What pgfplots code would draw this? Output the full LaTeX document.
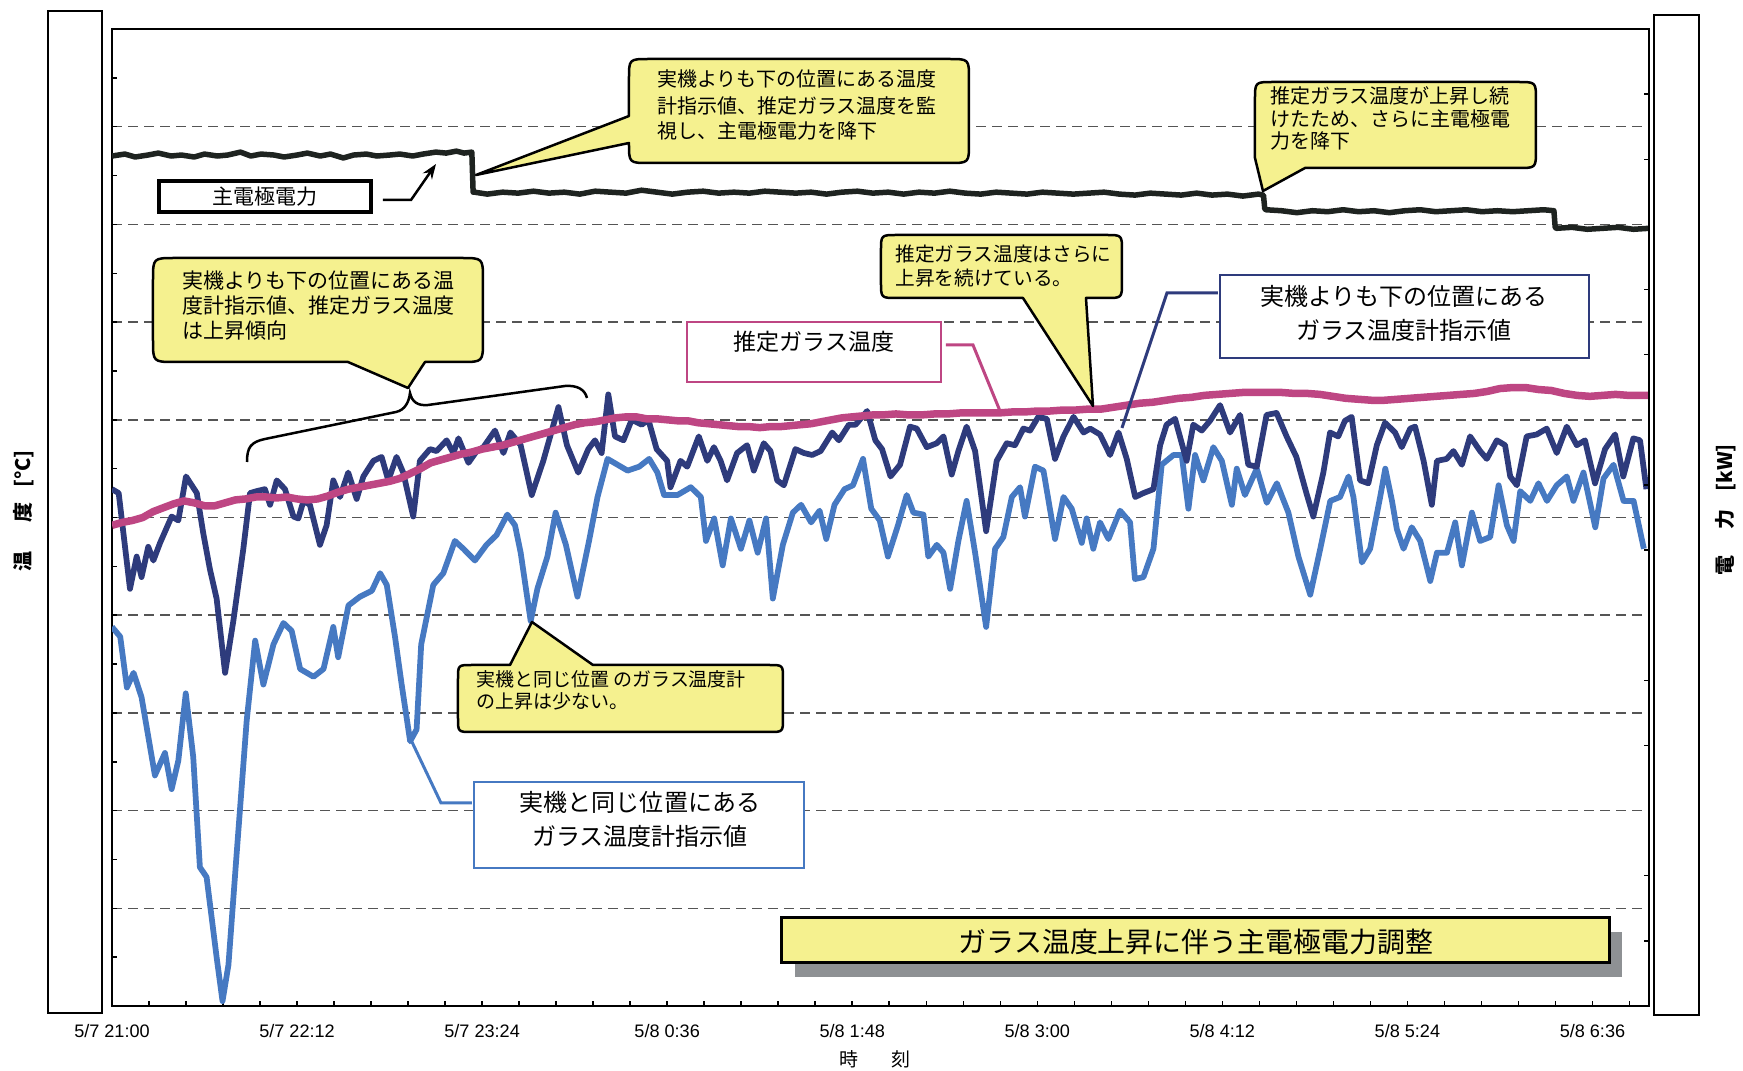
\documentclass[border=0pt]{standalone}
\usepackage{pgfplots}
\pgfplotsset{compat=1.18}
\usetikzlibrary{arrows.meta}
\usepackage{fontspec}
\setmainfont{Noto Sans CJK JP}
\newfontfamily\tickfont{Liberation Sans}

\definecolor{powerc}{HTML}{1E2320}
\definecolor{navyc}{HTML}{2E3B7C}
\definecolor{bluec}{HTML}{4679C2}
\definecolor{magc}{HTML}{BE4683}
\definecolor{gridc}{HTML}{555555}
\definecolor{callout}{HTML}{F5F18F}
\definecolor{shadowc}{HTML}{8E9194}

\newcommand{\fs}[1]{\fontsize{#1}{#1}\selectfont}

\begin{document}
\begin{tikzpicture}
\path[use as bounding box] (0,0) rectangle (348.6mm,-214.2mm);

% side frames (one px = 0.2mm, y downwards)
\begin{scope}[x=0.2mm,y=-0.2mm]
  \draw[line width=0.4mm] (48,11) rectangle (102,1013);
  \draw[line width=0.4mm] (1654,15) rectangle (1699,1015);
\end{scope}

\begin{axis}[
  at={(22.4mm,-201.2mm)}, anchor=south west,
  scale only axis, width=307.4mm, height=195.4mm,
  xmin=0, xmax=598, ymin=0, ymax=10,
  axis line style={line width=0.5mm},
  xtick={0,72,...,576},
  xticklabels={5/7 21:00,5/7 22:12,5/7 23:24,5/8 0:36,5/8 1:48,5/8 3:00,5/8 4:12,5/8 5:24,5/8 6:36},
  minor xtick={0,14.4,...,590},
  ytick={1,...,9}, yticklabels={},
  minor ytick={0.5,1.5,...,9.5},
  xtick pos=bottom, ytick pos=left,
  tick align=inside,
  major tick length=1mm, minor tick length=1mm,
  tick style={black, line width=0.3mm},
  ymajorgrids,
  major grid style={gridc, line width=0.3mm, dash pattern=on 2mm off 1.2mm},
  xticklabel style={font=\tickfont\fontsize{10.3}{12}\selectfont, yshift=-2.4mm},
  every axis plot/.append style={line join=round},
]
% lower thermometer (same level as the real unit)
\addplot[bluec, line width=1.15mm] coordinates {
(0,3.88)(3.2,3.78)(5.8,3.26)(8.4,3.41)(11.5,3.16)(16.7,2.36)(20.6,2.59)(23.2,2.22)(25.8,2.51)(28.7,3.20)(31.6,2.55)(34.2,1.42)(36.8,1.32)(40.7,0.50)(43,0.05)(45.3,0.42)(48.5,1.56)(52.4,2.92)(55.7,3.74)(58.9,3.29)(62.8,3.70)(66.7,3.92)(69.9,3.84)(73.2,3.45)(78.4,3.37)(82.3,3.45)(86.1,3.88)(88,3.57)(92,4.10)(96.5,4.19)(101.1,4.25)(104.3,4.43)(106.9,4.31)(110.1,3.78)(112.7,3.29)(116,2.71)(118.5,2.83)(120.3,3.70)(125,4.31)(128.9,4.43)(133.4,4.76)(136.7,4.68)(141.2,4.56)(145.7,4.72)(149.6,4.82)(153.8,5.03)(156.8,4.92)(159,4.64)(162.9,3.94)(165.5,4.27)(169.4,4.60)(172.6,5.05)(176.6,4.72)(181.1,4.19)(185.6,4.76)(188.9,5.21)(192.8,5.60)(196.7,5.54)(200.6,5.48)(205.1,5.52)(209,5.60)(212.2,5.46)(214.8,5.23)(220,5.23)(225.2,5.31)(229.1,5.21)(231.1,4.76)(234.3,4.99)(237.6,4.51)(240.8,4.99)(244.7,4.68)(248,4.97)(251.2,4.64)(254.5,4.99)(257.1,4.17)(261,4.72)(264.9,5.05)(268.1,5.13)(272,4.95)(275.3,5.07)(277.9,4.78)(281.1,5.13)(285,5.29)(288.3,5.33)(292.2,5.60)(295.4,5.09)(298.7,4.97)(301.9,4.60)(305.8,4.92)(309.2,5.23)(311.8,5.05)(315.7,5.03)(317.6,4.60)(320.9,4.72)(323.5,4.64)(326.1,4.27)(329.3,4.76)(332.5,5.17)(335.8,4.64)(340.1,3.88)(343.6,4.68)(346.8,4.80)(350.1,5.21)(353.3,5.31)(355.2,5.01)(359.1,5.52)(362.4,5.48)(366.9,4.78)(370.2,5.21)(373.4,5.09)(377.3,4.74)(379.2,4.99)(381.8,4.68)(384.4,4.95)(387.7,4.78)(392.2,5.07)(396.1,4.95)(398,4.37)(401.3,4.39)(405.2,4.68)(408.4,5.54)(413,5.64)(416.2,5.64)(418.8,5.09)(421.4,5.64)(424.6,5.38)(428.5,5.72)(431.8,5.58)(435.7,5.13)(437.6,5.50)(440.8,5.23)(445.4,5.50)(449.3,5.15)(453.2,5.35)(457.7,5.05)(461.6,4.60)(466.2,4.21)(470.1,4.68)(474,5.17)(477.8,5.21)(481.1,5.42)(483,5.21)(486.3,4.54)(489.5,4.68)(493.4,5.21)(495.4,5.50)(498,5.17)(499.9,4.88)(502.5,4.68)(505.7,4.90)(509,4.76)(512.9,4.35)(515.5,4.64)(519.4,4.64)(522.6,4.95)(525.2,4.51)(529.1,5.05)(532.3,4.76)(536.2,4.80)(539.5,5.33)(542.7,4.92)(545.3,4.76)(547.9,5.27)(551.8,5.17)(555,5.35)(558.3,5.17)(562.1,5.33)(566,5.42)(568.6,5.17)(572.5,5.46)(577.1,4.90)(580.3,5.40)(584.2,5.54)(588.1,5.17)(592,5.17)(596,4.68)
};
% upper thermometer (below the real unit)
\addplot[navyc, line width=1.15mm] coordinates {
(0,5.29)(2.6,5.25)(7,4.27)(9.6,4.60)(11.5,4.39)(14.1,4.70)(16.1,4.56)(18.7,4.74)(23.2,5.01)(25.8,4.97)(28.8,5.42)(33,5.25)(35.5,4.84)(38.1,4.47)(40.7,4.17)(44,3.41)(47.2,3.94)(51.1,4.68)(53.7,5.25)(56.3,5.27)(59.5,5.29)(61.5,5.13)(64.1,5.38)(67.3,5.29)(70.6,5.01)(72.5,4.99)(74.5,5.17)(77,5.13)(80.9,4.72)(83.5,4.92)(86.1,5.38)(88.7,5.21)(91.9,5.46)(95.2,5.19)(97.8,5.42)(101.7,5.58)(104.9,5.62)(107.5,5.38)(110.7,5.62)(113.3,5.46)(117.2,5.01)(119.8,5.58)(123.7,5.70)(126.3,5.68)(130.2,5.79)(132.8,5.66)(134.8,5.81)(138.7,5.56)(141.9,5.68)(144.5,5.72)(149,5.89)(152.3,5.66)(155,5.87)(159,5.74)(163.3,5.23)(167.8,5.58)(173.7,6.13)(177,5.74)(181.4,5.46)(185.3,5.70)(187.9,5.79)(190.5,5.66)(193.1,6.26)(195.7,5.83)(199,5.79)(202.2,6.00)(206.1,5.95)(208.7,6.00)(211.9,5.70)(216,5.58)(217.3,5.31)(221.2,5.58)(223.8,5.52)(228.3,5.83)(231.6,5.58)(234.2,5.72)(236.8,5.58)(239.3,5.38)(243.2,5.66)(247.1,5.74)(249.7,5.48)(253.6,5.76)(256.2,5.68)(258.8,5.38)(261.4,5.33)(265.9,5.70)(269.2,5.66)(272.4,5.64)(275.7,5.68)(280.2,5.87)(282.8,5.79)(286.7,5.95)(289.3,5.95)(293.8,6.09)(297,5.79)(299.6,5.70)(302.9,5.42)(306.6,5.54)(310.5,5.93)(313.1,5.91)(317,5.72)(320.9,5.76)(323.5,5.83)(326.7,5.44)(329.3,5.68)(332.5,5.93)(335.8,5.68)(340.1,4.86)(344.2,5.58)(348.1,5.76)(351.3,5.74)(354.6,5.91)(357.2,5.89)(360.4,6.03)(363.7,6.01)(366.9,5.60)(370.2,5.83)(374.1,6.03)(378,5.87)(380.6,5.91)(384.4,5.85)(388.3,5.64)(391.6,5.87)(394.8,5.60)(398.1,5.21)(401.3,5.25)(405.2,5.29)(407.8,5.74)(410.3,5.95)(413.6,6.01)(418.1,5.58)(420.7,5.95)(424,5.89)(427.2,5.99)(431.1,6.15)(435,5.87)(438.9,6.05)(442.1,5.54)(445.4,5.52)(449.2,6.05)(453.1,6.07)(457,5.83)(460.8,5.62)(464.7,5.25)(467.4,5.01)(471.3,5.46)(473.9,5.87)(477.1,5.83)(479.7,5.99)(482.3,6.03)(485.6,5.38)(488.8,5.35)(492.1,5.74)(495.3,5.97)(499.2,5.87)(501.8,5.72)(505.1,5.91)(507,5.93)(510.3,5.58)(513.5,5.13)(515.5,5.58)(519.3,5.60)(521.9,5.68)(525.2,5.54)(528.4,5.83)(532.3,5.68)(534.9,5.60)(538.8,5.79)(542,5.74)(544,5.42)(546.6,5.33)(550.4,5.83)(554.3,5.85)(558.2,5.91)(562.1,5.66)(566,5.93)(569.9,5.74)(573.1,5.79)(577,5.35)(580.9,5.70)(584.8,5.85)(588,5.42)(591.9,5.81)(594.5,5.79)(597,5.29)
};
% estimated glass temperature
\addplot[magc, line width=1.5mm] coordinates {
(0,4.92)(4,4.95)(8,4.97)(12,5.00)(16,5.06)(20,5.10)(24,5.14)(28,5.17)(32,5.15)(36,5.12)(40,5.12)(44,5.15)(48,5.18)(52,5.19)(56,5.21)(60,5.21)(64,5.20)(68,5.21)(72,5.19)(76,5.18)(80,5.19)(84,5.22)(88,5.26)(92,5.29)(96,5.31)(100,5.33)(104,5.35)(108,5.37)(112,5.40)(116,5.45)(120,5.50)(124,5.56)(128,5.59)(132,5.62)(136,5.65)(140,5.67)(144,5.70)(148,5.72)(152,5.74)(156,5.77)(160,5.80)(164,5.83)(168,5.86)(172,5.89)(176,5.92)(180,5.95)(184,5.97)(188,5.98)(192,6.00)(196,6.02)(200,6.03)(204,6.03)(208,6.01)(212,6.01)(216,6.00)(220,5.99)(224,5.99)(228,5.97)(232,5.96)(236,5.95)(240,5.94)(244,5.93)(248,5.93)(252,5.92)(256,5.93)(260,5.93)(264,5.94)(268,5.95)(272,5.96)(276,5.98)(280,6.00)(284,6.02)(288,6.03)(292,6.04)(296,6.05)(300,6.05)(305,6.06)(310,6.05)(315,6.05)(320,6.06)(325,6.06)(330,6.07)(335,6.07)(340,6.07)(345,6.07)(350,6.08)(355,6.08)(360,6.09)(365,6.09)(370,6.10)(375,6.10)(380,6.11)(385,6.11)(390,6.13)(395,6.15)(400,6.17)(405,6.18)(410,6.20)(415,6.22)(420,6.23)(425,6.25)(430,6.26)(435,6.27)(440,6.28)(445,6.28)(450,6.28)(455,6.28)(460,6.27)(465,6.27)(470,6.26)(475,6.24)(480,6.22)(485,6.21)(490,6.20)(495,6.20)(500,6.21)(505,6.22)(510,6.23)(515,6.24)(520,6.25)(525,6.26)(530,6.27)(535,6.29)(540,6.32)(545,6.33)(550,6.33)(555,6.31)(560,6.30)(565,6.27)(570,6.25)(575,6.24)(580,6.25)(585,6.26)(590,6.25)(598,6.25)
};
% main electrode power
\addplot[powerc, line width=1.1mm] coordinates {
(0,8.70)(5,8.72)(9,8.69)(14,8.71)(18,8.73)(23,8.70)(27,8.71)(32,8.69)(36,8.72)(41,8.70)(45,8.71)(50,8.74)(54,8.70)(58,8.72)(63,8.71)(67,8.69)(72,8.71)(76,8.73)(81,8.70)(85,8.72)(90,8.68)(94,8.71)(99,8.72)(103,8.70)(108,8.71)(112,8.72)(117,8.70)(121,8.72)(126,8.74)(130,8.73)(134,8.75)(137,8.73)(140,8.74)(140.5,8.33)
(141,8.33)(146,8.31)(152,8.33)(158,8.32)(164,8.34)(170,8.32)(176,8.33)(182,8.31)(188,8.34)(194,8.33)(200,8.32)(206,8.35)(212,8.33)(218,8.31)(224,8.33)(230,8.34)(236,8.32)(242,8.33)(248,8.32)(254,8.34)(260,8.33)(266,8.32)(272,8.33)(278,8.31)(284,8.33)(290,8.34)(296,8.32)(302,8.33)(308,8.31)(314,8.33)(320,8.32)(326,8.34)(332,8.32)(338,8.31)(344,8.33)(350,8.32)(356,8.31)(362,8.33)(368,8.32)(374,8.31)(380,8.32)(386,8.33)(392,8.31)(398,8.30)(404,8.32)(410,8.31)(416,8.30)(422,8.32)(428,8.30)(434,8.31)(440,8.29)(446,8.31)(448,8.30)(448.5,8.16)
(449,8.15)(455,8.14)(461,8.12)(467,8.14)(473,8.13)(479,8.15)(485,8.13)(491,8.14)(497,8.12)(503,8.14)(509,8.15)(515,8.13)(521,8.14)(527,8.15)(533,8.13)(539,8.14)(545,8.13)(551,8.14)(557,8.15)(561,8.14)(561.5,7.97)
(562,7.96)(568,7.97)(574,7.95)(580,7.96)(586,7.97)(592,7.95)(598,7.96)
};
\end{axis}

% right-hand (power) scale ticks
\begin{axis}[
  at={(22.4mm,-201.2mm)}, anchor=south west,
  scale only axis, width=307.4mm, height=195.4mm,
  xmin=0, xmax=598, ymin=0, ymax=10,
  axis x line=none, axis y line*=right,
  y axis line style={line width=0.5mm},
  ytick={0.6667,1.3333,2.6667,3.3333,4.6667,5.3333,6.6667,7.3333,8.6667,9.3333},
  yticklabels={}, tick align=inside, major tick length=1mm,
  tick style={black, line width=0.3mm},
]
\addplot[draw=none] coordinates {(0,0)};
\end{axis}

\begin{scope}[x=0.2mm,y=-0.2mm]
  % axis titles
  \node[rotate=90, font=\bfseries\fs{11.4}] at (24,511) {温\hspace{1.45em}度\hspace{0.75em}[°C]};
  \node[rotate=90, font=\bfseries\fs{11.4}] at (1726,510) {電\hspace{1.3em}力\hspace{0.9em}[kW]};
  \node[anchor=base, font=\fs{10.8}] at (875,1067) {時\hspace{1.7em}刻};

  % callout: top middle
  \draw[fill=callout, line width=0.5mm, line join=round]
    (649,59) -- (949,59) .. controls (969,59) .. (969,79) -- (969,143)
    .. controls (969,163) .. (949,163) -- (649,163) .. controls (629,163) .. (629,143)
    -- (476,175) -- (629,116) -- (629,79) .. controls (629,59) .. (649,59) -- cycle;
  \begin{scope}[font=\fs{11.38}]
    \node[anchor=base west, inner sep=0] at (657,87) {実機よりも下の位置にある温度};
    \node[anchor=base west, inner sep=0] at (657,114) {計指示値、推定ガラス温度を監};
    \node[anchor=base west, inner sep=0] at (657,139) {視し、主電極電力を降下};
  \end{scope}

  % callout: top right
  \draw[fill=callout, line width=0.5mm, line join=round]
    (1273,82) -- (1518,82) .. controls (1536,82) .. (1536,100) -- (1536,150)
    .. controls (1536,168) .. (1518,168) -- (1305,168) -- (1263,191) -- (1255,158)
    -- (1255,100) .. controls (1255,82) .. (1273,82) -- cycle;
  \begin{scope}[font=\fs{11.38}]
    \node[anchor=base west, inner sep=0] at (1270,104) {推定ガラス温度が上昇し続};
    \node[anchor=base west, inner sep=0] at (1270,127) {けたため、さらに主電極電};
    \node[anchor=base west, inner sep=0] at (1270,149) {力を降下};
  \end{scope}

  % callout: left
  \draw[fill=callout, line width=0.5mm, line join=round]
    (175,258) -- (461,258) .. controls (483,258) .. (483,280) -- (483,340)
    .. controls (483,362) .. (461,362) -- (425,362) -- (408,388) -- (348,362)
    -- (175,362) .. controls (153,362) .. (153,340) -- (153,280)
    .. controls (153,258) .. (175,258) -- cycle;
  \begin{scope}[font=\fs{11.95}]
    \node[anchor=base west, inner sep=0] at (182,289) {実機よりも下の位置にある温};
    \node[anchor=base west, inner sep=0] at (182,314) {度計指示値、推定ガラス温度};
    \node[anchor=base west, inner sep=0] at (182,339) {は上昇傾向};
  \end{scope}
  % brace
  \draw[line width=0.5mm]
    (247,462) .. controls (247,447) and (251,442) .. (265,439) -- (396,412)
    .. controls (405,410) and (409,402) .. (410,393)
    .. controls (412,402) and (418,406) .. (428,405) -- (565,386)
    .. controls (578,385) and (585,390) .. (587,398);

  % callout: middle right
  \draw[fill=callout, line width=0.5mm, line join=round]
    (897,235) -- (1106,235) .. controls (1122,235) .. (1122,251) -- (1122,282)
    .. controls (1122,298) .. (1106,298) -- (1086,298) -- (1093,406) -- (1023,298)
    -- (897,298) .. controls (881,298) .. (881,282) -- (881,251)
    .. controls (881,235) .. (897,235) -- cycle;
  \begin{scope}[font=\fs{11.2}]
    \node[anchor=base west, inner sep=0] at (895,262) {推定ガラス温度はさらに};
    \node[anchor=base west, inner sep=0] at (895,286) {上昇を続けている。};
  \end{scope}

  % callout: lower middle
  \draw[fill=callout, line width=0.5mm, line join=round]
    (472,665) -- (510,665) -- (532,622) -- (593,665) -- (769,665)
    .. controls (783,665) .. (783,679) -- (783,718) .. controls (783,732) .. (769,732)
    -- (472,732) .. controls (458,732) .. (458,718) -- (458,679)
    .. controls (458,665) .. (472,665) -- cycle;
  \begin{scope}[font=\fs{10.8}]
    \node[anchor=base west, inner sep=0] at (476,687) {実機と同じ位置 のガラス温度計};
    \node[anchor=base west, inner sep=0] at (476,709) {の上昇は少ない。};
  \end{scope}

  % series name boxes with leaders
  \draw[fill=white, line width=0.7mm] (159,181) rectangle (371,212);
  \node[anchor=base, inner sep=0, font=\fs{11.95}] at (265,205) {主電極電力};
  \draw[line width=0.5mm, -{Stealth[length=3mm,width=2.2mm]}] (383,200) -- (411,200) -- (436,164);

  \draw[magc, fill=white, line width=0.45mm] (687,322) rectangle (941,382);
  \node[anchor=base, inner sep=0, font=\fs{13.1}] at (814,351) {推定ガラス温度};
  \draw[magc, line width=0.6mm] (946,345) -- (973,345) -- (1000,411);

  \draw[navyc, fill=white, line width=0.45mm] (1220,275) rectangle (1589,358);
  \node[anchor=base, inner sep=0, font=\fs{13.66}] at (1404,306) {実機よりも下の位置にある};
  \node[anchor=base, inner sep=0, font=\fs{13.66}] at (1404,340) {ガラス温度計指示値};
  \draw[navyc, line width=0.6mm] (1218,293) -- (1167,293) -- (1122,428);

  \draw[bluec, fill=white, line width=0.45mm] (474,782) rectangle (804,868);
  \node[anchor=base, inner sep=0, font=\fs{13.66}] at (640,812) {実機と同じ位置にある};
  \node[anchor=base, inner sep=0, font=\fs{13.66}] at (640,846) {ガラス温度計指示値};
  \draw[bluec, line width=0.6mm] (472,803) -- (441,803) -- (412,742);

  % title box
  \fill[shadowc] (795,932) rectangle (1622,977);
  \draw[fill=callout, line width=0.6mm] (782,918) rectangle (1610,963);
  \node[anchor=base, inner sep=0, font=\fs{15.9}] at (1196,953) {ガラス温度上昇に伴う主電極電力調整};
\end{scope}
\end{tikzpicture}
\end{document}
